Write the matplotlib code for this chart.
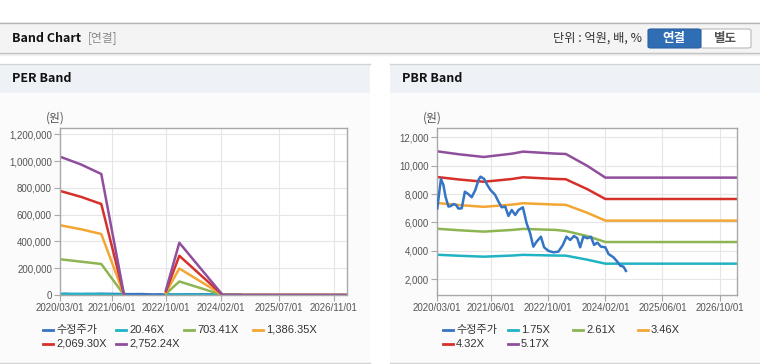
import numpy as np
import pandas as pd
import matplotlib.pyplot as plt
import matplotlib.dates as mdates
from matplotlib.patches import Rectangle, FancyBboxPatch
from matplotlib.lines import Line2D
from matplotlib.ticker import FuncFormatter

plt.rcParams['font.family'] = ['Liberation Sans', 'Noto Sans CJK KR']

# 수정주가 (adjusted price)
price_dates = ['2020-03-01', '2020-03-13', '2020-04-01', '2020-04-22', '2020-05-10', '2020-06-04',
               '2020-06-25', '2020-07-16', '2020-08-07', '2020-08-28', '2020-09-25', '2020-10-22',
               '2020-11-22', '2020-12-19', '2021-01-19', '2021-02-15', '2021-03-04', '2021-04-04',
               '2021-05-01', '2021-05-28', '2021-07-07', '2021-08-04', '2021-09-01', '2021-10-01',
               '2021-10-28', '2021-11-25', '2021-12-25', '2022-01-22', '2022-02-28', '2022-04-01',
               '2022-05-01', '2022-05-28', '2022-06-25', '2022-08-01', '2022-08-28', '2022-10-04',
               '2022-11-16', '2022-12-28', '2023-02-04', '2023-03-07', '2023-04-07', '2023-05-10',
               '2023-06-07', '2023-07-01', '2023-07-28', '2023-09-01', '2023-10-01', '2023-10-28',
               '2023-11-25', '2023-12-25', '2024-02-01', '2024-02-28', '2024-04-10', '2024-05-13',
               '2024-06-07', '2024-07-04', '2024-07-25']
price = [7000, 7820, 9070, 8640, 7820, 7120, 7160, 7300, 7240, 6980, 7000, 8170,
         7990, 7780, 8290, 9000, 9230, 9070, 8640, 8290, 7940, 7470, 7070, 7120,
         6460, 6880, 6530, 6880, 7070, 5940, 5240, 4300, 4650, 5000, 4250, 4000,
         3900, 3950, 4420, 5000, 4770, 5050, 4890, 4250, 5000, 4890, 5000, 4420,
         4580, 4300, 4250, 3780, 3550, 3240, 2960, 2890, 2590]

# PER band
per_dates = ['2020-03-01', '2020-09-01', '2021-03-01', '2021-09-20', '2022-03-01',
             '2022-09-28', '2023-01-25', '2024-02-15', '2027-03-01']
per_labels = ['20.46X', '703.41X', '1,386.35X', '2,069.30X', '2,752.24X']
per_2046 = [7670, 7200, 6700, 0, np.nan, 280, 2900, 0, 0]
per_70341 = [266600, 249000, 231500, 0, np.nan, 9500, 101000, 0, 0]
per_138635 = [520500, 491000, 455500, 0, np.nan, 19000, 198000, 0, 0]
per_206930 = [776600, 733000, 679500, 0, np.nan, 28000, 293000, 0, 0]
per_275224 = [1032000, 975000, 903500, 0, np.nan, 37000, 390000, 0, 0]

# PBR band
pbr_dates = ['2020-03-01', '2020-09-01', '2021-04-01', '2021-12-01', '2022-03-01',
             '2022-12-01', '2023-03-01', '2023-09-01', '2024-02-01', '2027-03-01']
pbr_labels = ['1.75X', '2.61X', '3.46X', '4.32X', '5.17X']
pbr_175 = [3728, 3658, 3593, 3673, 3721, 3673, 3665, 3379, 3101, 3101]
pbr_261 = [5559, 5455, 5358, 5478, 5549, 5478, 5400, 5040, 4625, 4625]
pbr_346 = [7370, 7231, 7103, 7263, 7356, 7263, 7245, 6681, 6131, 6131]
pbr_432 = [9202, 9029, 8869, 9068, 9184, 9068, 9046, 8342, 7655, 7655]
pbr_517 = [11012, 10805, 10614, 10852, 10991, 10852, 10826, 9983, 9161, 9161]

per_ticks = ['2020-03-01', '2021-06-01', '2022-10-01', '2024-02-01', '2025-07-01', '2026-11-01']
pbr_ticks = ['2020-03-01', '2021-06-01', '2022-10-01', '2024-02-01', '2025-06-01', '2026-10-01']

colors = ['#3474c4', '#1fb3c3', '#8db552', '#f3a634', '#d6302a', '#904f9c']

W, H = 760, 364
fig = plt.figure(figsize=(W / 100, H / 100), dpi=100)
fig.patch.set_facecolor('white')


def fx(x):
    return x / W


def fy(y):
    return 1 - y / H


def rect(x0, y0, x1, y1, fc, ec='none', lw=0, z=-10):
    fig.patches.append(Rectangle((fx(x0), fy(y1)), fx(x1) - fx(x0), fy(y0) - fy(y1),
                                 transform=fig.transFigure, fc=fc, ec=ec, lw=lw, zorder=z))


def hline(x0, x1, y, color, lw=1, z=-5):
    fig.add_artist(Line2D([fx(x0), fx(x1)], [fy(y), fy(y)], color=color, lw=lw, zorder=z))


# top header bar
rect(0, 22, 760, 53, '#f4f4f4')
hline(0, 760, 22.5, '#b5b5b5')
hline(0, 760, 53, '#bdbdbd')
hline(0, 760, 54.2, '#e2e2e2')
hline(0, 760, 55.3, '#f2f2f2')
fig.text(fx(12), fy(38), 'Band Chart', fontsize=9, fontweight='bold', color='#111111',
         family=['Noto Sans CJK KR'], va='center')
fig.text(fx(88), fy(38), '[연결]', fontsize=8.5, color='#8a8a8a', va='center',
         family=['Noto Sans CJK KR'])
fig.text(fx(642), fy(38), '단위 : 억원, 배, %', fontsize=8.8, color='#333333', va='center',
         ha='right', family=['Noto Sans CJK KR'])
fig.patches.append(FancyBboxPatch((fx(700), fy(48)), fx(751) - fx(700), fy(29) - fy(48),
                                  boxstyle='round,pad=0,rounding_size=0.004',
                                  transform=fig.transFigure, fc='white', ec='#b9b9b9', lw=0.8, zorder=1))
fig.patches.append(FancyBboxPatch((fx(648), fy(48)), fx(701) - fx(648), fy(29) - fy(48),
                                  boxstyle='round,pad=0,rounding_size=0.004',
                                  transform=fig.transFigure, fc='#2f6eb5', ec='#2a5f9e', lw=0.8, zorder=2))
fig.text(fx(674), fy(38.5), '연결', fontsize=9, fontweight='bold', color='white',
         ha='center', va='center', family=['Noto Sans CJK KR'], zorder=3)
fig.text(fx(725), fy(38.5), '별도', fontsize=9, fontweight='bold', color='#555555',
         ha='center', va='center', family=['Noto Sans CJK KR'], zorder=3)

# panels
for x0, x1, title in [(0, 370, 'PER Band'), (390, 760, 'PBR Band')]:
    rect(x0, 64, x1, 363, '#fbfbfb')
    rect(x0, 64, x1, 93, '#eef1f6')
    hline(x0, x1, 64, '#d3d3d3')
    hline(x0, x1, 362.5, '#d3d3d3')
    fig.text(fx(x0 + 12), fy(79), title, fontsize=9, fontweight='bold', color='#111111',
             family=['Noto Sans CJK KR'], va='center')

ax1 = fig.add_axes([fx(60.3), fy(295), fx(347.3) - fx(60.3), fy(128) - fy(295)])
ax2 = fig.add_axes([fx(437.3), fy(295), fx(737.3) - fx(437.3), fy(128) - fy(295)])

pdates = pd.to_datetime(price_dates)
ax1.plot(pdates, price, color=colors[0], lw=1.8)
for c, s in zip(colors[1:], [per_2046, per_70341, per_138635, per_206930, per_275224]):
    ax1.plot(pd.to_datetime(per_dates), s, color=c, lw=1.8)

ax2.plot(pdates, price, color=colors[0], lw=1.8, zorder=5)
for c, s in zip(colors[1:], [pbr_175, pbr_261, pbr_346, pbr_432, pbr_517]):
    ax2.plot(pd.to_datetime(pbr_dates), s, color=c, lw=1.8)

ax1.set_ylim(0, 1247000)
ax1.set_yticks(range(0, 1200001, 200000))
ax2.set_ylim(894, 12655)
ax2.set_yticks(range(2000, 12001, 2000))
ax1.set_xticks(pd.to_datetime(per_ticks))
ax2.set_xticks(pd.to_datetime(pbr_ticks))

for ax in (ax1, ax2):
    ax.set_facecolor('white')
    ax.set_xlim(pd.Timestamp('2020-03-01'), pd.Timestamp('2027-03-01'))
    ax.xaxis.set_major_formatter(mdates.DateFormatter('%Y/%m/%d'))
    ax.yaxis.set_major_formatter(FuncFormatter(lambda v, p: f'{v:,.0f}'))
    ax.grid(color='#e6e6e6', lw=0.8)
    ax.set_axisbelow(True)
    for sp in ax.spines.values():
        sp.set_color('#a9a9a9')
        sp.set_linewidth(1)
    ax.tick_params(length=4, width=0.8, color='#a9a9a9', labelsize=7, labelcolor='#555555', pad=2)

fig.text(fx(55), fy(118), '(원)', fontsize=8.5, color='#555555', ha='center', va='center',
         family=['Noto Sans CJK KR'])
fig.text(fx(432), fy(118), '(원)', fontsize=8.5, color='#555555', ha='center', va='center',
         family=['Noto Sans CJK KR'])


def legend_item(x, y, color, label):
    fig.add_artist(Line2D([fx(x), fx(x + 10)], [fy(y), fy(y)], color=color, lw=2))
    fig.text(fx(x + 13), fy(y), label, fontsize=8, color='#333333', va='center',
             family=['Liberation Sans', 'Noto Sans CJK KR'])


per_names = ['수정주가'] + per_labels
pbr_names = ['수정주가'] + pbr_labels
per_pos = [(43, 330), (116, 330), (184, 330), (253, 330), (43, 344), (116, 344)]
pbr_pos = [(443, 330), (508, 330), (573, 330), (638, 330), (443, 344), (508, 344)]
for (x, y), c, n in zip(per_pos, colors, per_names):
    legend_item(x, y, c, n)
for (x, y), c, n in zip(pbr_pos, colors, pbr_names):
    legend_item(x, y, c, n)

fig.savefig('out.png', dpi=100)
